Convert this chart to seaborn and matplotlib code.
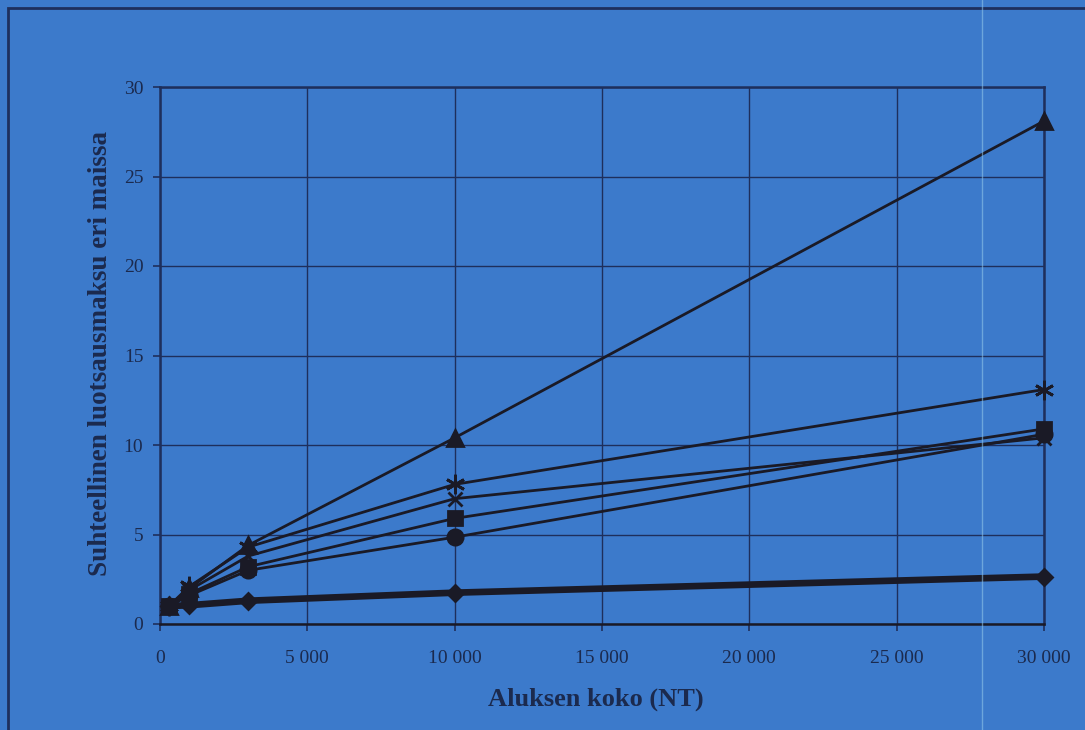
import matplotlib
matplotlib.use("Agg")
import matplotlib.pyplot as plt
from matplotlib.lines import Line2D
from matplotlib.patches import Rectangle
from matplotlib.ticker import FuncFormatter
import pandas as pd
import seaborn as sns

# Ship size (net tonnage) and relative pilotage fee per country series
ship_size = [300, 1000, 3000, 10000, 30000]
fee_diamond = [1.0, 1.05, 1.3, 1.75, 2.65]
fee_circle = [1.0, 1.6, 3.0, 4.85, 10.6]
fee_square = [1.0, 1.7, 3.2, 5.9, 10.9]
fee_cross = [1.0, 1.9, 3.8, 7.0, 10.4]
fee_star = [1.0, 2.1, 4.3, 7.8, 13.1]
fee_triangle = [1.0, 2.0, 4.4, 10.4, 28.1]

x_ticks = [0, 5000, 10000, 15000, 20000, 25000, 30000]
y_ticks = [0, 5, 10, 15, 20, 25, 30]

BG = "#3c7acb"
INK = "#1b2a4e"
LINE = "#1a1a26"
GRID = "#1e2f5c"

sns.set_theme(style="white")
plt.rcParams["font.family"] = ["Liberation Serif", "DejaVu Serif"]

fig = plt.figure(figsize=(10.85, 7.3), dpi=100, facecolor=BG)
ax = fig.add_axes([160 / 1085, 1 - 624 / 730, (1044 - 160) / 1085, (624 - 87) / 730])
ax.set_facecolor(BG)

series = [
    (fee_triangle, "^", 11, 2.0),
    (fee_star, (6, 2, 0), 14, 2.0),
    (fee_cross, "x", 10, 2.0),
    (fee_square, "s", 10, 2.0),
    (fee_circle, "o", 11, 2.0),
    (fee_diamond, "D", 8, 4.8),
]
for values, marker, ms, lw in series:
    df = pd.DataFrame({"size": ship_size, "fee": values})
    sns.lineplot(data=df, x="size", y="fee", ax=ax, color=LINE, linewidth=lw,
                 marker=marker, markersize=ms, markeredgecolor=LINE,
                 markeredgewidth=2.0, markerfacecolor=LINE, zorder=3,
                 clip_on=False)

ax.set_xlim(0, 30000)
ax.set_ylim(0, 30)
ax.set_xticks(x_ticks)
ax.set_yticks(y_ticks)
ax.xaxis.set_major_formatter(FuncFormatter(lambda v, p: f"{int(v):,}".replace(",", " ")))
ax.grid(True, color=GRID, linewidth=1.0)
ax.set_axisbelow(True)
for side in ["left", "right", "top", "bottom"]:
    ax.spines[side].set_visible(True)
    ax.spines[side].set_color(GRID)
    ax.spines[side].set_linewidth(1.8)
ax.spines["bottom"].set_color(LINE)

ax.tick_params(axis="both", which="major", direction="out", length=5, width=1.2,
               color=GRID, labelcolor=INK, labelsize=14, pad=7,
               left=True, bottom=True)
ax.tick_params(axis="x", pad=14)

ax.set_xlabel("Aluksen koko (NT)", fontsize=19, fontweight="bold", color=INK)
ax.set_ylabel("Suhteellinen luotsausmaksu eri maissa", fontsize=19.5, fontweight="bold",
              color=INK)
ax.xaxis.set_label_coords(0.5 + (596 - 602) / 884, (624 - 688) / 537)
ax.yaxis.set_label_coords((113 - 160) / 884, 0.5 + (355.5 - 354) / 537)

# Outer chart frame (top and left edges visible)
fig.add_artist(Rectangle((8 / 1085, -0.05), 1.2, 1 - 8 / 730 + 0.05,
                         transform=fig.transFigure, fill=False,
                         edgecolor=GRID, linewidth=2.0))
# Faint light streak crossing the sheet
fig.add_artist(Line2D([982 / 1085, 982 / 1085], [0, 1], transform=fig.transFigure,
                      color="#8fc4e8", linewidth=1.0, alpha=0.6))

fig.savefig("out.png", dpi=100, facecolor=BG)
